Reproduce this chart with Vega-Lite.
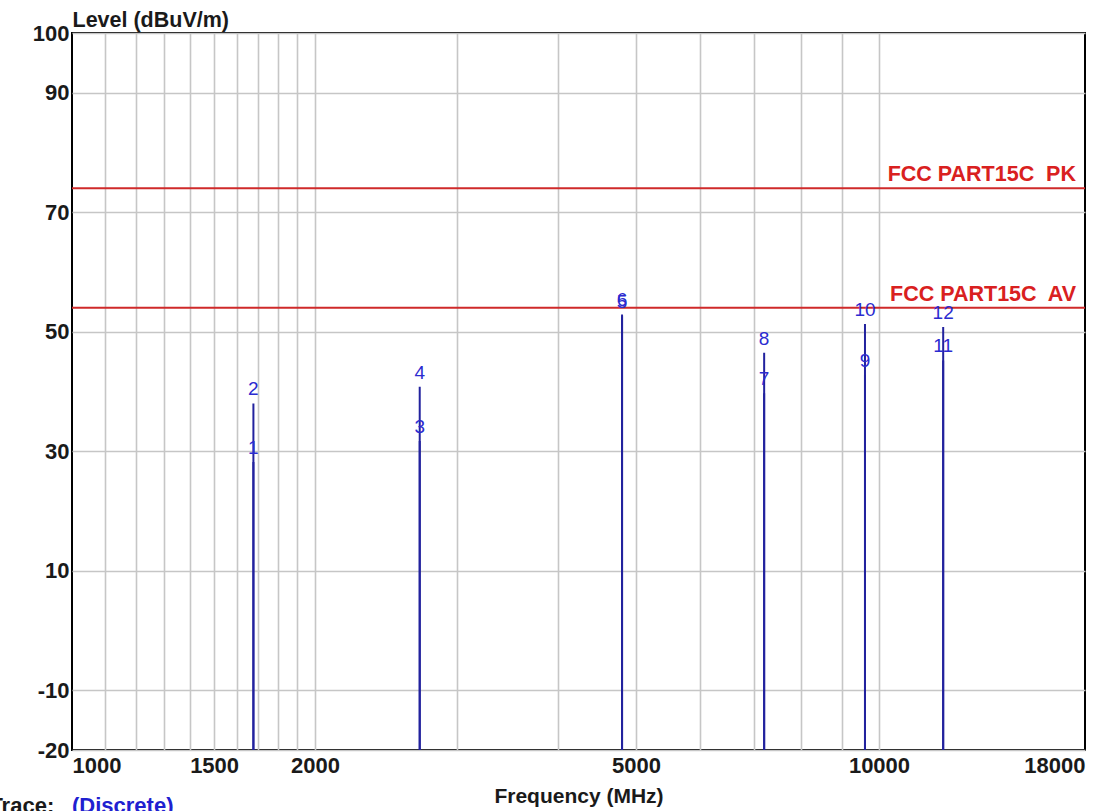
{
  "$schema": "https://vega.github.io/schema/vega-lite/v6.json",
  "width": 1013,
  "height": 717,
  "autosize": "none",
  "padding": {"left": 72, "top": 33, "right": 27, "bottom": 61},
  "background": "white",
  "config": {
    "view": {"stroke": "#000000", "strokeWidth": 2},
    "font": "Liberation Sans"
  },
  "datasets": {
    "markers": [
      {"no": "1", "freq": 1678, "level": 28.2},
      {"no": "2", "freq": 1678, "level": 38.0},
      {"no": "3", "freq": 2697, "level": 31.7},
      {"no": "4", "freq": 2697, "level": 40.8},
      {"no": "5", "freq": 4804, "level": 52.6},
      {"no": "6", "freq": 4804, "level": 52.9},
      {"no": "7", "freq": 7206, "level": 39.7},
      {"no": "8", "freq": 7206, "level": 46.5},
      {"no": "9", "freq": 9608, "level": 42.8},
      {"no": "10", "freq": 9608, "level": 51.3},
      {"no": "11", "freq": 12010, "level": 45.2},
      {"no": "12", "freq": 12010, "level": 50.8}
    ],
    "limits": [
      {"name": "FCC PART15C\u00a0 PK", "limit": 74},
      {"name": "FCC PART15C\u00a0 AV", "limit": 54}
    ],
    "trace": [
      {"t": "Trace:", "part": "label", "f": 790, "lv": -30.5},
      {"t": "(Discrete)", "part": "value", "f": 1000, "lv": -30.5}
    ]
  },
  "layer": [
    {
      "data": {"name": "markers"},
      "mark": {"type": "text", "opacity": 0},
      "encoding": {
        "x": {
          "field": "freq", "type": "quantitative",
          "scale": {"type": "log", "domain": [1000, 18000], "nice": false},
          "axis": {
            "orient": "top", "values": [1100, 1200, 1300, 1400, 1500, 1600, 1700, 1800, 1900, 2000, 3000, 4000, 5000, 6000, 7000, 8000, 9000, 10000],
            "grid": true, "gridColor": "#c6c6c6", "gridWidth": 1.6,
            "labels": false, "ticks": false, "domain": false, "title": null
          }
        },
        "y": {
          "field": "level", "type": "quantitative",
          "scale": {"domain": [-20, 100], "nice": false, "zero": false},
          "axis": {
            "values": [-20, -10, 10, 30, 50, 70, 90, 100],
            "labelExpr": "datum.value < 0 ? '-' + abs(datum.value) : '' + datum.value",
            "grid": true, "gridColor": "#c6c6c6", "gridWidth": 1.6,
            "ticks": false, "domain": false,
            "labelFont": "Liberation Sans", "labelFontWeight": "bold", "labelFontSize": 22,
            "labelColor": "#1a1a1a", "labelPadding": 3, "labelOverlap": false,
            "title": "Level (dBuV/m)", "titleAngle": 0, "titleAlign": "left", "titleBaseline": "middle",
            "titleX": 0, "titleY": -13, "titleFont": "Liberation Sans", "titleFontSize": 21.5,
            "titleFontWeight": "bold", "titleColor": "#1a1a1a"
          }
        },
        "text": {"field": "no"}
      }
    },
    {
      "data": {"name": "limits"},
      "mark": {"type": "rule", "color": "#cf2a2a", "strokeWidth": 2},
      "encoding": {
        "y": {"field": "limit", "type": "quantitative"}
      }
    },
    {
      "data": {"name": "markers"},
      "mark": {"type": "rule", "color": "#22229e", "strokeWidth": 2},
      "encoding": {
        "x": {
          "field": "freq", "type": "quantitative",
          "axis": {
            "orient": "bottom", "values": [1000, 1500, 2000, 5000, 10000, 18000], "format": "d",
            "grid": false, "ticks": false, "domain": false, "labelFlush": true, "labelOverlap": false,
            "labelFont": "Liberation Sans", "labelFontWeight": "bold", "labelFontSize": 22,
            "labelColor": "#1a1a1a", "labelPadding": 5,
            "title": "Frequency (MHz)", "titleFont": "Liberation Sans", "titleFontSize": 21,
            "titleFontWeight": "bold", "titleColor": "#1a1a1a", "titlePadding": 9
          }
        },
        "y": {"field": "level", "type": "quantitative"},
        "y2": {"datum": -20}
      }
    },
    {
      "data": {"name": "markers"},
      "mark": {"type": "text", "color": "#2b2bd0", "font": "Liberation Sans", "fontSize": 19, "dy": -14, "baseline": "middle", "align": "center"},
      "encoding": {
        "x": {"field": "freq", "type": "quantitative", "axis": null},
        "y": {"field": "level", "type": "quantitative"},
        "text": {"field": "no"}
      }
    },
    {
      "data": {"name": "limits"},
      "mark": {"type": "text", "color": "#d92020", "font": "Liberation Sans", "fontSize": 21.5, "fontWeight": "bold", "align": "right", "baseline": "middle", "dx": -9, "dy": -13},
      "encoding": {
        "x": {"datum": 18000, "type": "quantitative", "axis": null},
        "y": {"field": "limit", "type": "quantitative"},
        "text": {"field": "name"}
      }
    },
    {
      "data": {"name": "trace"},
      "mark": {"type": "text", "font": "Liberation Sans", "fontSize": 22, "fontWeight": "bold", "align": "left", "baseline": "alphabetic"},
      "encoding": {
        "x": {"field": "f", "type": "quantitative", "axis": null},
        "y": {"field": "lv", "type": "quantitative"},
        "text": {"field": "t"},
        "color": {"field": "part", "type": "nominal", "scale": {"domain": ["label", "value"], "range": ["#1a1a1a", "#2020d0"]}, "legend": null}
      }
    }
  ],
  "resolve": {"axis": {"x": "independent"}}
}
